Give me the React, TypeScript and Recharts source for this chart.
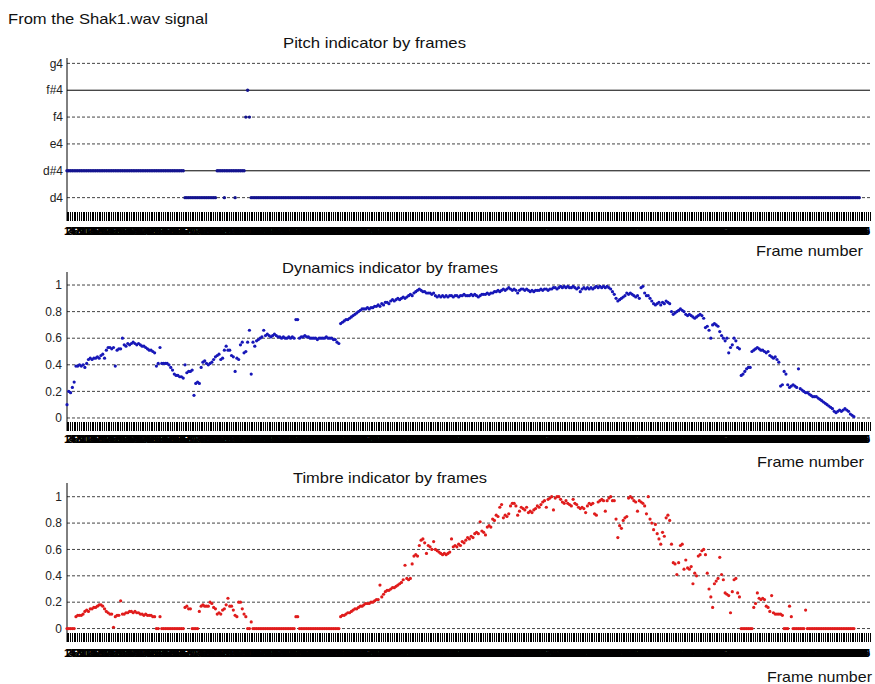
import { LineChart, Line, XAxis, YAxis, ReferenceLine } from 'recharts';

const FRAME_COUNT = 450;
const frames = Array.from({ length: FRAME_COUNT }, (_, i) => i + 1);

const notes = ['d4', 'd#4', 'e4', 'f4', 'f#4', 'g4'];
const sharpNotes = ['d#4', 'f#4'];
const unitTicks = [0, 0.2, 0.4, 0.6, 0.8, 1];

// pitch: [first frame, last frame, note]
const pitchRuns: [number, number, string][] = [
  [1, 66, 'd#4'],
  [67, 84, 'd4'],
  [85, 100, 'd#4'],
  [101, 101, 'f4'],
  [102, 102, 'f#4'],
  [103, 103, 'f4'],
  [104, 444, 'd4'],
];
// stray d4 points sitting under the second d#4 run
const pitchExtra: [number, string][] = [[89, 'd4'], [95, 'd4']];

const dynamics = [
  0.1, 0.2, 0.19, 0.23, 0.27, 0.39, 0.39, 0.4, 0.39, 0.4, 0.38, 0.41, 0.44, 0.45, 0.44,
  0.45, 0.45, 0.46, 0.45, 0.47, 0.48, 0.45, 0.51, 0.53, 0.53, 0.52, 0.53, 0.39, 0.51, 0.52,
  0.52, 0.6, 0.55, 0.54, 0.56, 0.55, 0.56, 0.57, 0.56, 0.55, 0.56, 0.55, 0.54, 0.54, 0.53,
  0.52, 0.51, 0.51, 0.5, 0.49, 0.39, 0.41, 0.53, 0.41, 0.41, 0.41, 0.41, 0.4, 0.38, 0.36,
  0.33, 0.32, 0.32, 0.31, 0.31, 0.3, 0.4, 0.34, 0.35, 0.35, 0.36, 0.17, 0.26, 0.27, 0.26,
  0.38, 0.42, 0.43, 0.41, 0.4, 0.41, 0.42, 0.44, 0.46, 0.47, 0.48, 0.44, 0.45, 0.51, 0.54,
  0.51, 0.51, 0.47, 0.46, 0.35, 0.45, 0.44, 0.55, 0.57, 0.49, 0.5, 0.57, 0.66, 0.33, 0.57,
  0.54, 0.58, 0.59, 0.6, 0.61, 0.66, 0.62, 0.63, 0.62, 0.61, 0.62, 0.63, 0.62, 0.61, 0.61,
  0.6, 0.61, 0.6, 0.6, 0.61, 0.6, 0.61, 0.6, 0.74, 0.74, 0.6, 0.61, 0.61, 0.62, 0.61,
  0.61, 0.6, 0.6, 0.6, 0.6, 0.59, 0.6, 0.6, 0.6, 0.6, 0.61, 0.6, 0.6, 0.6, 0.59,
  0.59, 0.57, 0.56, 0.71, 0.72, 0.73, 0.74, 0.74, 0.75, 0.76, 0.77, 0.78, 0.79, 0.8, 0.81,
  0.82, 0.82, 0.82, 0.83, 0.82, 0.83, 0.83, 0.84, 0.84, 0.85, 0.84, 0.86, 0.85, 0.87, 0.87,
  0.86, 0.88, 0.89, 0.88, 0.89, 0.9, 0.89, 0.9, 0.91, 0.9, 0.91, 0.92, 0.93, 0.92, 0.94,
  0.95, 0.96, 0.97, 0.96, 0.95, 0.95, 0.94, 0.94, 0.94, 0.93, 0.94, 0.92, 0.91, 0.92, 0.91,
  0.92, 0.91, 0.92, 0.91, 0.92, 0.92, 0.91, 0.92, 0.92, 0.91, 0.92, 0.92, 0.93, 0.92, 0.92,
  0.92, 0.93, 0.92, 0.93, 0.92, 0.91, 0.92, 0.93, 0.93, 0.93, 0.94, 0.93, 0.94, 0.94, 0.95,
  0.95, 0.96, 0.95, 0.96, 0.97, 0.96, 0.97, 0.98, 0.97, 0.96, 0.97, 0.96, 0.94, 0.96, 0.97,
  0.97, 0.96, 0.97, 0.96, 0.95, 0.96, 0.95, 0.96, 0.96, 0.96, 0.97, 0.96, 0.97, 0.97, 0.96,
  0.97, 0.97, 0.98, 0.98, 0.97, 0.98, 0.99, 0.98, 0.99, 0.98, 0.99, 0.98, 0.98, 0.99, 0.98,
  0.97, 0.98, 0.95, 0.97, 0.98, 0.97, 0.98, 0.97, 0.98, 0.97, 0.98, 0.99, 0.98, 0.99, 0.98,
  0.99, 0.98, 0.99, 0.98, 0.97, 0.95, 0.93, 0.9, 0.88, 0.89, 0.9, 0.91, 0.92, 0.94, 0.93,
  0.94, 0.93, 0.92, 0.91, 0.92, 0.9, 0.98, 0.99, 0.94, 0.92, 0.92, 0.9, 0.88, 0.86, 0.85,
  0.86, 0.87, 0.85, 0.87, 0.86, 0.88, 0.87, 0.86, 0.8, 0.78, 0.79, 0.8, 0.81, 0.82, 0.81,
  0.8, 0.78, 0.77, 0.78, 0.77, 0.76, 0.75, 0.76, 0.77, 0.78, 0.77, 0.75, 0.68, 0.69, 0.66,
  0.6, 0.7, 0.71, 0.7, 0.69, 0.65, 0.62, 0.6, 0.58, 0.6, 0.49, 0.53, 0.55, 0.6, 0.58,
  0.53, 0.52, 0.32, 0.33, 0.35, 0.37, 0.38, 0.38, 0.5, 0.51, 0.52, 0.53, 0.52, 0.51, 0.51,
  0.5, 0.49, 0.5, 0.47, 0.46, 0.45, 0.46, 0.44, 0.42, 0.24, 0.25, 0.35, 0.33, 0.25, 0.23,
  0.24, 0.25, 0.24, 0.23, 0.37, 0.22, 0.21, 0.2, 0.19, 0.19, 0.18, 0.17, 0.16, 0.16, 0.16,
  0.15, 0.14, 0.13, 0.12, 0.11, 0.1, 0.09, 0.08, 0.07, 0.05, 0.04, 0.05, 0.06, 0.05, 0.06,
  0.07, 0.06, 0.05, 0.03, 0.02, 0.01,
];

const timbre = [
  0, 0, 0, 0, 0, 0.09, 0.1, 0.1, 0.1, 0.11, 0.13, 0.14, 0.13, 0.15, 0.15,
  0.16, 0.16, 0.17, 0.18, 0.18, 0.17, 0.15, 0.13, 0.12, 0.11, 0.11, 0.01, 0.09, 0.1, 0.1,
  0.21, 0.11, 0.11, 0.12, 0.12, 0.13, 0.13, 0.12, 0.13, 0.12, 0.12, 0.11, 0.11, 0.1, 0.11,
  0.1, 0.1, 0.1, 0.09, 0.09, 0, 0, 0.09, 0, 0, 0, 0, 0, 0, 0,
  0, 0, 0, 0, 0, 0, 0.16, 0.17, 0.15, 0.15, 0, 0, 0, 0, 0.13,
  0.17, 0.18, 0.17, 0.17, 0.17, 0.2, 0.19, 0.16, 0.15, 0.11, 0.12, 0.11, 0.14, 0.15, 0.18,
  0.23, 0.17, 0.17, 0.14, 0.1, 0.09, 0.2, 0.2, 0.15, 0.11, 0.09, 0, 0, 0.05, 0,
  0, 0, 0, 0, 0, 0, 0, 0, 0, 0, 0, 0, 0, 0, 0,
  0, 0, 0, 0, 0, 0, 0, 0, 0.09, 0.09, 0, 0, 0, 0, 0,
  0, 0, 0, 0, 0, 0, 0, 0, 0, 0, 0, 0, 0, 0, 0,
  0, 0, 0, 0.09, 0.1, 0.1, 0.11, 0.12, 0.12, 0.13, 0.14, 0.15, 0.15, 0.16, 0.17,
  0.17, 0.18, 0.19, 0.19, 0.19, 0.2, 0.2, 0.21, 0.22, 0.22, 0.33, 0.24, 0.26, 0.28, 0.29,
  0.29, 0.3, 0.31, 0.31, 0.32, 0.33, 0.34, 0.35, 0.37, 0.48, 0.38, 0.37, 0.38, 0.49, 0.55,
  0.56, 0.55, 0.63, 0.67, 0.68, 0.65, 0.57, 0.63, 0.62, 0.6, 0.66, 0.6, 0.59, 0.58, 0.57,
  0.56, 0.57, 0.56, 0.57, 0.58, 0.68, 0.62, 0.63, 0.62, 0.64, 0.63, 0.66, 0.65, 0.67, 0.69,
  0.68, 0.7, 0.69, 0.72, 0.73, 0.72, 0.81, 0.74, 0.73, 0.71, 0.77, 0.78, 0.77, 0.83, 0.82,
  0.86, 0.85, 0.92, 0.94, 0.84, 0.86, 0.85, 0.87, 0.93, 0.95, 0.95, 0.93, 0.86, 0.89, 0.92,
  0.91, 0.9, 0.92, 0.88, 0.89, 0.88, 0.9, 0.91, 0.93, 0.92, 0.94, 0.96, 0.97, 0.92, 0.98,
  0.99, 1, 0.9, 0.99, 1, 1, 0.98, 0.96, 0.95, 0.97, 0.95, 0.94, 0.93, 0.98, 0.95,
  0.94, 0.92, 0.91, 0.92, 0.91, 0.88, 0.93, 0.95, 0.94, 0.95, 0.87, 0.86, 0.96, 0.97, 0.98,
  0.97, 0.89, 0.97, 0.99, 1, 0.97, 0.97, 0.83, 0.69, 0.78, 0.76, 0.82, 0.84, 0.85, 0.99,
  1, 0.99, 0.97, 0.96, 0.89, 0.97, 0.96, 0.95, 0.93, 0.87, 1, 0.83, 0.8, 0.75, 0.79,
  0.72, 0.68, 0.64, 0.73, 0.7, 0.84, 0.86, 0.82, 0.64, 0.5, 0.49, 0.41, 0.5, 0.63, 0.64,
  0.45, 0.52, 0.46, 0.45, 0.47, 0.34, 0.42, 0.4, 0.55, 0.56, 0.59, 0.6, 0.56, 0.42, 0.3,
  0.24, 0.16, 0.34, 0.36, 0.38, 0.54, 0.41, 0.37, 0.27, 0.26, 0.25, 0.12, 0.28, 0.37, 0.38,
  0.27, 0.24, 0, 0, 0, 0, 0, 0, 0, 0.16, 0.19, 0.27, 0.23, 0.22, 0.23,
  0.22, 0.17, 0.16, 0.13, 0.25, 0.12, 0.11, 0.11, 0.11, 0.11, 0.1, 0, 0, 0, 0.17,
  0.09, 0, 0, 0, 0, 0, 0, 0, 0.14, 0, 0, 0, 0, 0, 0,
  0, 0, 0, 0, 0, 0, 0, 0, 0, 0, 0, 0, 0, 0, 0,
  0, 0, 0, 0, 0, 0,
];

const noteIndex = (n: string) => notes.indexOf(n);

const rows = frames.map((frame, i) => {
  const run = pitchRuns.find(([a, b]) => frame >= a && frame <= b);
  const extra = pitchExtra.find(([f]) => f === frame);
  return {
    frame,
    pitch: run ? noteIndex(run[2]) : null,
    pitchExtra: extra ? noteIndex(extra[1]) : null,
    dynamics: dynamics[i] ?? null,
    timbre: timbre[i] ?? null,
  };
});

const FONT = '"Liberation Sans", Arial, sans-serif';

const FrameTick = (props: any) => {
  const { x, y, payload, labelDy } = props;
  // last labels are kept inside the picture
  const anchor = payload.value > FRAME_COUNT - 5 ? 'end' : 'middle';
  return (
    <g>
      <line x1={x} x2={x} y1={y - 9} y2={y} stroke="#000" strokeWidth={1} shapeRendering="crispEdges" />
      <text x={x} y={y + labelDy} textAnchor={anchor} fontSize={11} fontWeight="bold" fill="#000">{payload.value}</text>
    </g>
  );
};

const xAxisFor = (labelDy: number) => (
  <XAxis
    dataKey="frame"
    type="number"
    domain={[1, FRAME_COUNT]}
    ticks={frames}
    interval={0}
    axisLine={false}
    tickLine={false}
    tickSize={0}
    tickMargin={0}
    height={20}
    tick={(p: any) => <FrameTick {...p} labelDy={labelDy} />}
  />
);

const yTickStyle = { fontSize: 12, fill: '#222' };

const unitGrid = unitTicks.map(v => (
  <ReferenceLine key={v} y={v} stroke="#444" strokeDasharray="3 2" />
));

export default function App() {
  return (
    <div style={{ position: 'absolute', left: 0, top: 0, width: 875, height: 684, background: '#fff', fontFamily: FONT }}>
      {/* pitch */}
      <div style={{ position: 'absolute', left: 0, top: 0 }}>
        <LineChart width={875} height={241} data={rows} margin={{ top: 58, right: 5, bottom: 0, left: 0 }}>
          {notes.map(n => (
            <ReferenceLine
              key={n}
              y={noteIndex(n)}
              stroke={sharpNotes.includes(n) ? '#000' : '#444'}
              strokeDasharray={sharpNotes.includes(n) ? undefined : '3 2'}
            />
          ))}
          {xAxisFor(14)}
          <YAxis
            type="number"
            domain={[-0.87, 5.2]}
            allowDataOverflow
            ticks={notes.map((_, i) => i)}
            tickFormatter={(v: number) => notes[v]}
            width={67}
            tickLine={false}
            tickSize={0}
            tickMargin={4}
            axisLine={{ stroke: '#000' }}
            tick={yTickStyle}
          />
          <Line dataKey="pitch" stroke="none" dot={{ r: 1.7, fill: '#14148f', stroke: 'none' }} activeDot={false} isAnimationActive={false} />
          <Line dataKey="pitchExtra" stroke="none" dot={{ r: 1.7, fill: '#14148f', stroke: 'none' }} activeDot={false} isAnimationActive={false} />
        </LineChart>
      </div>

      {/* dynamics */}
      <div style={{ position: 'absolute', left: 0, top: 250 }}>
        <LineChart width={875} height={201} data={rows} margin={{ top: 22, right: 5, bottom: 0, left: 0 }}>
          {unitGrid}
          {xAxisFor(12)}
          <YAxis
            type="number"
            domain={[-0.098, 1.098]}
            allowDataOverflow
            ticks={unitTicks}
            width={67}
            tickLine={false}
            tickSize={0}
            tickMargin={5}
            axisLine={{ stroke: '#000' }}
            tick={yTickStyle}
          />
          <Line dataKey="dynamics" stroke="none" dot={{ r: 1.6, fill: '#1717b8', stroke: 'none' }} activeDot={false} isAnimationActive={false} />
        </LineChart>
      </div>

      {/* timbre */}
      <div style={{ position: 'absolute', left: 0, top: 460 }}>
        <LineChart width={875} height={202} data={rows} margin={{ top: 23, right: 5, bottom: 0, left: 0 }}>
          {unitGrid}
          {xAxisFor(15)}
          <YAxis
            type="number"
            domain={[-0.102, 1.104]}
            allowDataOverflow
            ticks={unitTicks}
            width={67}
            tickLine={false}
            tickSize={0}
            tickMargin={5}
            axisLine={{ stroke: '#000' }}
            tick={yTickStyle}
          />
          <Line dataKey="timbre" stroke="none" dot={{ r: 1.6, fill: '#e01c1c', stroke: 'none' }} activeDot={false} isAnimationActive={false} />
        </LineChart>
      </div>

      <svg width={875} height={684} style={{ position: 'absolute', left: 0, top: 0, pointerEvents: 'none' }}>
        <g fontSize={15} fill="#111" fontFamily={FONT}>
          <text x={8} y={24} textLength={200} lengthAdjust="spacingAndGlyphs">From the Shak1.wav signal</text>
          <text x={283} y={48} textLength={183} lengthAdjust="spacingAndGlyphs">Pitch indicator by frames</text>
          <text x={282} y={273} textLength={216} lengthAdjust="spacingAndGlyphs">Dynamics indicator by frames</text>
          <text x={293} y={483} textLength={194} lengthAdjust="spacingAndGlyphs">Timbre indicator by frames</text>
          <text x={756} y={256} textLength={107} lengthAdjust="spacingAndGlyphs">Frame number</text>
          <text x={757} y={467} textLength={107} lengthAdjust="spacingAndGlyphs">Frame number</text>
          <text x={767} y={682} textLength={105} lengthAdjust="spacingAndGlyphs">Frame number</text>
        </g>
      </svg>
    </div>
  );
}
